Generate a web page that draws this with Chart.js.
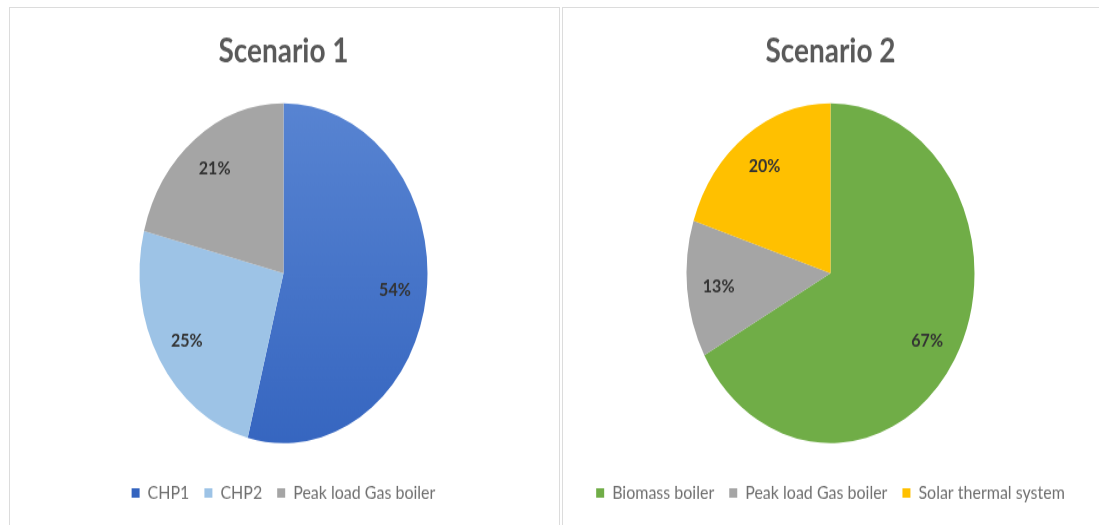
<!DOCTYPE html>
<html>
<head>
<meta charset="utf-8">
<script src="https://cdn.jsdelivr.net/npm/chart.js@4.4.0/dist/chart.umd.min.js"></script>
<style>
  html, body { margin: 0; padding: 0; background: #fff; }
  body { width: 1099px; height: 525px; position: relative; overflow: hidden; }
  .panel {
    position: absolute; top: 7px; height: 530px;
    border-top: 1px solid #dcdcdc; border-left: 1px solid #dcdcdc;
    box-sizing: border-box;
  }
  #p1 { left: 9px; width: 551px; border-right: 1px solid #dcdcdc; }
  #p2 { left: 562px; width: 560px; }
  .stretch {
    position: absolute; top: 0; width: 547px; height: 439px;
    transform: scaleY(1.18); transform-origin: 0 0;
  }
  #p1 .stretch { left: 0; }
  #p2 .stretch { left: -6px; }
</style>
</head>
<body>
<div class="panel" id="p1"><div class="stretch"><canvas id="chart1" width="547" height="439"></canvas></div></div>
<div class="panel" id="p2"><div class="stretch"><canvas id="chart2" width="547" height="439"></canvas></div></div>

<script>
// ===== DATA =====
const scenario1Labels = ['CHP1', 'CHP2', 'Peak load Gas boiler'];
const scenario1Values = [54, 25, 21];

const scenario2Labels = ['Biomass boiler', 'Peak load Gas boiler', 'Solar thermal system'];
const scenario2Values = [67, 13, 20];

const scenario1Colors = ['#4472c4', '#9dc3e6', '#a5a5a5'];
const scenario2Colors = ['#70ad47', '#a5a5a5', '#ffc000'];

// percent labels inside slices
const pctLabels = {
  id: 'pctLabels',
  afterDatasetsDraw(chart) {
    const { ctx } = chart;
    const meta = chart.getDatasetMeta(0);
    const values = chart.data.datasets[0].data;
    ctx.save();
    ctx.font = 'bold 16px Lato';
    ctx.fillStyle = '#333';
    ctx.textAlign = 'center';
    ctx.textBaseline = 'middle';
    meta.data.forEach((arc, i) => {
      const { x, y, startAngle, endAngle, outerRadius } = arc.getProps(['x', 'y', 'startAngle', 'endAngle', 'outerRadius'], true);
      const mid = (startAngle + endAngle) / 2;
      const r = outerRadius * 0.78;
      ctx.fillText(values[i] + '%', x + Math.cos(mid) * r, y + Math.sin(mid) * r);
    });
    ctx.restore();
  }
};

// blue slice gets a soft top-to-bottom shade like the office default
function shaded(colors) {
  return c => {
    const base = colors[c.dataIndex];
    if (base !== '#4472c4') return base;
    const area = c.chart.chartArea;
    if (!area) return base;
    const g = c.chart.ctx.createLinearGradient(0, area.top, 0, area.bottom);
    g.addColorStop(0, '#5a86d3');
    g.addColorStop(1, '#3464bf');
    return g;
  };
}

function renderPie(id, title, labels, values, colors) {
  const ctx = document.getElementById(id);
  if (!ctx) return;
  new Chart(ctx, {
    type: 'pie',
    data: {
      labels: labels,
      datasets: [{
        data: values,
        backgroundColor: shaded(colors),
        borderWidth: 0,
        radius: 144
      }]
    },
    options: {
      responsive: false,
      animation: false,
      layout: { padding: { top: 0, bottom: 10, left: 0, right: 0 } },
      plugins: {
        title: {
          display: true,
          text: title,
          color: '#595959',
          font: { family: 'Lato', size: 28, weight: 'bold' },
          padding: { top: 20, bottom: 8 }
        },
        legend: {
          position: 'bottom',
          labels: {
            color: '#707070',
            font: { family: 'Lato', size: 16 },
            boxWidth: 8,
            boxHeight: 8,
            padding: 15
          }
        },
        tooltip: { enabled: false }
      }
    },
    plugins: [pctLabels]
  });
}

renderPie('chart1', 'Scenario 1', scenario1Labels, scenario1Values, scenario1Colors);
renderPie('chart2', 'Scenario 2', scenario2Labels, scenario2Values, scenario2Colors);
</script>
</body>
</html>
